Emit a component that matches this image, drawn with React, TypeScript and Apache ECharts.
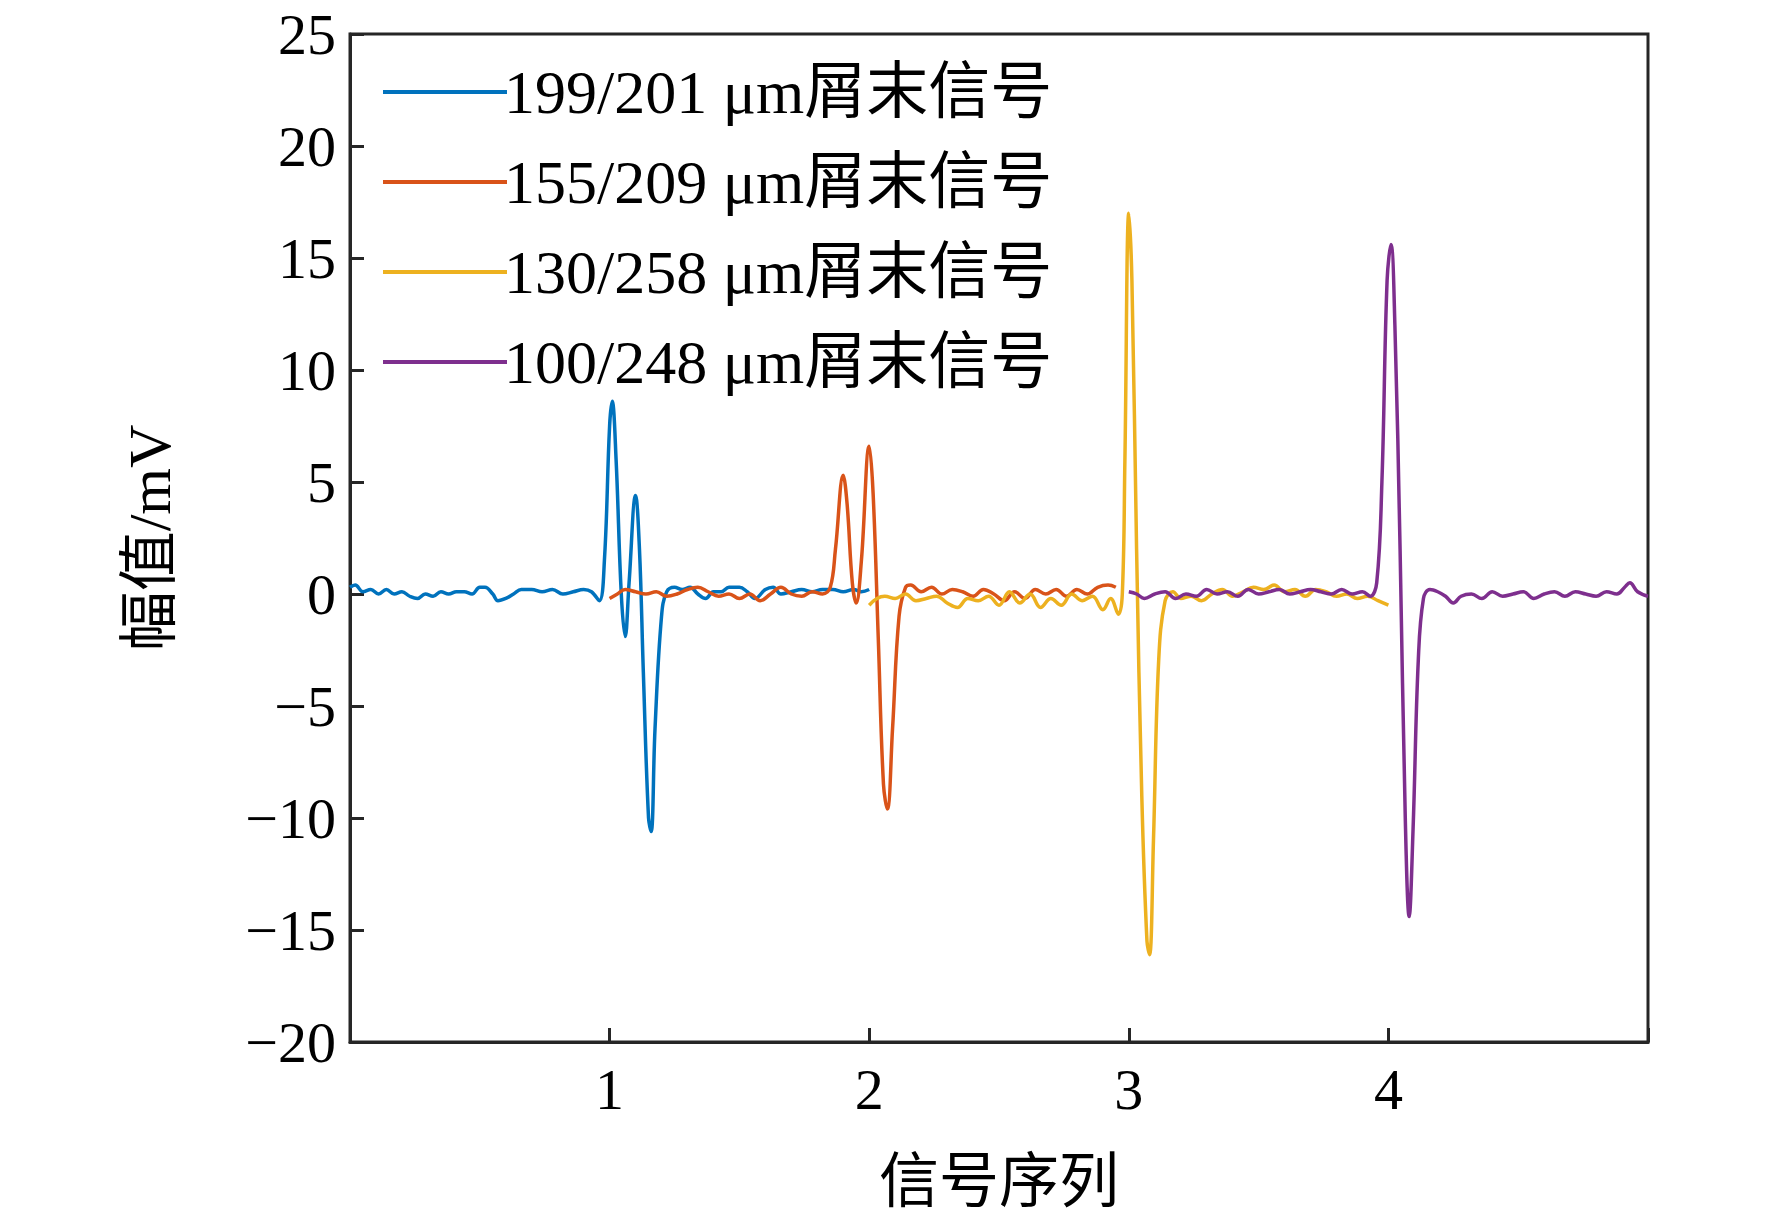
import * as echarts from "echarts"
import { useEffect, useRef } from "react"

const seriesNames = [
  "199/201 μm屑末信号",
  "155/209 μm屑末信号",
  "130/258 μm屑末信号",
  "100/248 μm屑末信号",
]
const colors = ["#0072BD", "#D95319", "#EDB120", "#7E2F8E"]
const yTicks = [-20, -15, -10, -5, 0, 5, 10, 15, 20, 25]

const blue = [
  [0, 0.3], [0.02, 0.4], [0.05, 0.1], [0.08, 0.2], [0.11, 0.0], [0.14, 0.2], [0.17, 0.0],
  [0.2, 0.1], [0.23, -0.1], [0.26, -0.2], [0.29, 0.0], [0.32, -0.1], [0.35, 0.1], [0.38, 0.0],
  [0.41, 0.1], [0.44, 0.1], [0.47, 0.0], [0.5, 0.3], [0.52, 0.3], [0.55, 0.0], [0.57, -0.3],
  [0.6, -0.2], [0.63, 0.0], [0.66, 0.2], [0.7, 0.2], [0.74, 0.1], [0.78, 0.2], [0.82, 0.0],
  [0.86, 0.1], [0.9, 0.2], [0.93, 0.1], [0.96, -0.3], [0.98, 1.5], [1.0, 7.5], [1.01, 8.6],
  [1.025, 6.0], [1.045, 0.0], [1.06, -1.9], [1.075, 0.5], [1.1, 4.4], [1.115, 2.0],
  [1.13, -3.5], [1.15, -10.0], [1.16, -10.6], [1.175, -6.0], [1.2, -1.0], [1.22, 0.1],
  [1.25, 0.3], [1.28, 0.2], [1.31, 0.3], [1.34, 0.0], [1.37, -0.2], [1.4, 0.1],
  [1.43, 0.1], [1.46, 0.3], [1.5, 0.3], [1.53, 0.1], [1.56, -0.2], [1.6, 0.2], [1.63, 0.3],
  [1.66, 0.0], [1.7, 0.1], [1.74, 0.2], [1.78, 0.1], [1.82, 0.2], [1.86, 0.2], [1.9, 0.1],
  [1.94, 0.2], [1.97, 0.1], [2.0, 0.2],
]
const orange = [
  [1.0, -0.2], [1.03, 0.0], [1.06, 0.2], [1.1, 0.1], [1.14, 0.0], [1.18, 0.1], [1.22, -0.1],
  [1.26, 0.0], [1.3, 0.2], [1.34, 0.3], [1.38, 0.1], [1.42, -0.1], [1.46, 0.0], [1.5, -0.2],
  [1.54, 0.0], [1.58, -0.3], [1.62, 0.0], [1.66, 0.3], [1.7, 0.0], [1.74, -0.1], [1.78, 0.1],
  [1.82, 0.0], [1.85, 0.3], [1.87, 2.0], [1.9, 5.3], [1.915, 4.0], [1.935, 0.5],
  [1.95, -0.4], [1.97, 1.5], [2.0, 6.6], [2.015, 4.5], [2.035, -2.0], [2.055, -8.5],
  [2.07, -9.6], [2.09, -6.0], [2.115, -1.0], [2.14, 0.3], [2.16, 0.4], [2.2, 0.1],
  [2.24, 0.3], [2.28, 0.0], [2.32, 0.2], [2.36, 0.1], [2.4, -0.1], [2.44, 0.2], [2.48, 0.0],
  [2.52, -0.3], [2.56, 0.1], [2.6, -0.2], [2.64, 0.2], [2.68, 0.0], [2.72, 0.2], [2.76, -0.1],
  [2.8, 0.2], [2.84, 0.0], [2.88, 0.3], [2.92, 0.4], [2.95, 0.3],
]
const yellow = [
  [2.0, -0.5], [2.03, -0.2], [2.06, -0.1], [2.1, -0.2], [2.14, 0.0], [2.18, -0.3],
  [2.22, -0.2], [2.26, -0.1], [2.3, -0.4], [2.34, -0.6], [2.38, -0.2], [2.42, -0.3],
  [2.46, -0.1], [2.5, -0.5], [2.54, 0.1], [2.58, -0.4], [2.62, 0.0], [2.66, -0.6],
  [2.7, -0.2], [2.74, -0.5], [2.78, 0.0], [2.82, -0.3], [2.86, -0.1], [2.9, -0.7],
  [2.93, -0.2], [2.96, -0.9], [2.975, 0.0], [2.985, 6.0], [3.0, 17.0], [3.012, 14.0],
  [3.03, 2.0], [3.05, -9.0], [3.07, -15.5], [3.08, -16.1], [3.095, -11.0], [3.115, -3.0],
  [3.14, -0.3], [3.17, 0.1], [3.2, -0.2], [3.24, -0.1], [3.28, -0.3], [3.32, 0.0],
  [3.36, 0.2], [3.4, -0.1], [3.44, 0.1], [3.48, 0.3], [3.52, 0.2], [3.56, 0.4], [3.6, 0.1],
  [3.64, 0.2], [3.68, -0.1], [3.72, 0.2], [3.76, 0.1], [3.8, -0.1], [3.84, 0.0], [3.88, -0.2],
  [3.92, -0.1], [3.96, -0.3], [4.0, -0.5],
]
const purple = [
  [3.0, 0.1], [3.03, 0.0], [3.06, -0.2], [3.1, 0.0], [3.14, 0.1], [3.18, -0.2], [3.22, 0.0],
  [3.26, -0.1], [3.3, 0.2], [3.34, 0.0], [3.38, 0.1], [3.42, -0.1], [3.46, 0.2], [3.5, 0.0],
  [3.54, 0.1], [3.58, 0.2], [3.62, 0.0], [3.66, 0.1], [3.7, 0.2], [3.74, 0.1], [3.78, 0.0],
  [3.82, 0.2], [3.86, 0.0], [3.9, 0.1], [3.93, -0.1], [3.955, 0.5], [3.975, 5.0],
  [3.995, 14.0], [4.01, 15.6], [4.025, 12.0], [4.045, 2.0], [4.065, -10.0], [4.08, -14.4],
  [4.095, -10.5], [4.115, -3.0], [4.135, -0.2], [4.16, 0.2], [4.19, 0.1], [4.22, -0.1],
  [4.25, -0.4], [4.28, -0.1], [4.32, 0.0], [4.36, -0.2], [4.4, 0.1], [4.44, -0.1],
  [4.48, 0.0], [4.52, 0.1], [4.56, -0.2], [4.6, 0.0], [4.64, 0.1], [4.68, -0.1], [4.72, 0.1],
  [4.76, 0.0], [4.8, -0.1], [4.84, 0.1], [4.88, 0.0], [4.91, 0.3], [4.93, 0.5], [4.96, 0.1],
  [5.0, -0.1],
]
const seriesData = [blue, orange, yellow, purple]

const font = "'Liberation Serif', 'Times New Roman', 'Noto Sans CJK SC', serif"

export default function App() {
  const node = useRef<HTMLDivElement>(null)

  useEffect(() => {
    if (!node.current) return
    const chart = echarts.init(node.current, undefined, { renderer: "svg" })
    chart.setOption({
      animation: false,
      textStyle: { fontFamily: font, color: "#000" },
      grid: { left: 350, right: 124, top: 34, bottom: 178 },
      legend: {
        left: 378,
        top: 56,
        orient: "vertical",
        itemWidth: 124,
        itemHeight: 4,
        itemGap: 28,
        icon: "rect",
        textStyle: { fontSize: 62, fontFamily: font, color: "#000", padding: [0, 0, 0, -8] },
        data: seriesNames,
      },
      xAxis: {
        type: "value",
        min: 0,
        max: 5,
        interval: 1,
        name: "信号序列",
        nameLocation: "middle",
        nameGap: 110,
        nameTextStyle: { fontSize: 60, fontFamily: font, color: "#000" },
        axisLine: { onZero: false, lineStyle: { color: "#262626", width: 3 } },
        axisTick: { inside: true, length: 14, lineStyle: { width: 3 } },
        axisLabel: {
          fontSize: 58,
          color: "#000",
          margin: 18,
          formatter: (v: number) => (v === 0 || v === 5 ? "" : String(v)),
        },
        splitLine: { show: false },
      },
      yAxis: {
        type: "value",
        min: yTicks[0],
        max: yTicks[yTicks.length - 1],
        interval: 5,
        name: "幅值/mV",
        nameLocation: "middle",
        nameGap: 170,
        nameTextStyle: { fontSize: 60, fontFamily: font, color: "#000" },
        axisLine: { lineStyle: { color: "#262626", width: 3 } },
        axisTick: { inside: true, length: 14, lineStyle: { width: 3 } },
        axisLabel: {
          fontSize: 58,
          color: "#000",
          margin: 14,
          formatter: (v: number) => (v < 0 ? "\u2212" + Math.abs(v) : String(v)),
        },
        splitLine: { show: false },
      },
      graphic: [
        {
          type: "rect",
          shape: { x: 350, y: 34, width: 1298, height: 1008 },
          style: { fill: "none", stroke: "#262626", lineWidth: 3 },
          silent: true,
        },
      ],
      series: seriesNames.map((name, i) => ({
        name,
        type: "line",
        data: seriesData[i],
        showSymbol: false,
        smooth: 0.4,
        lineStyle: { color: colors[i], width: 3.5 },
        itemStyle: { color: colors[i] },
      })),
    })
    return () => chart.dispose()
  }, [])

  return (
    <div
      ref={node}
      style={{ position: "fixed", left: 0, top: 0, width: 1772, height: 1220, background: "#fff" }}
    />
  )
}
